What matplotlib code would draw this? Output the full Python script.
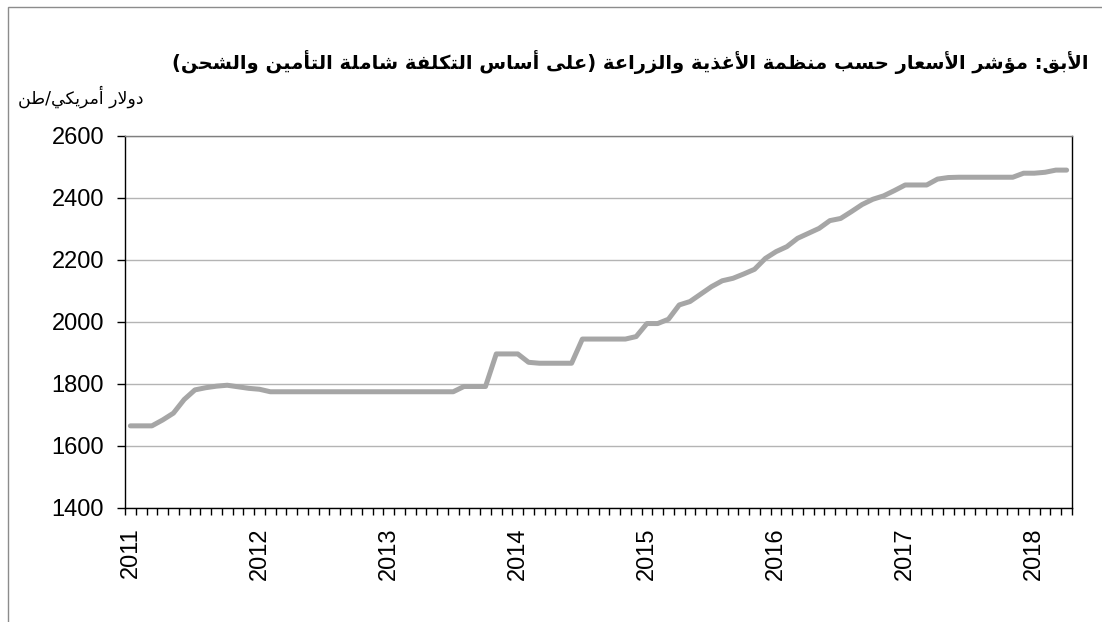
import matplotlib
matplotlib.use('Agg')
import matplotlib.pyplot as plt
from matplotlib.patches import Rectangle

# أسعار شهرية من يناير 2011 إلى أبريل 2018
years = ['2011', '2012', '2013', '2014', '2015', '2016', '2017', '2018']
prices = [
    1665, 1665, 1665, 1684, 1706, 1750, 1781, 1788, 1793, 1796, 1791, 1786,  # 2011
    1783, 1775, 1775, 1775, 1775, 1775, 1775, 1775, 1775, 1775, 1775, 1775,  # 2012
    1775, 1775, 1775, 1775, 1775, 1775, 1775, 1792, 1792, 1792, 1897, 1897,  # 2013
    1897, 1870, 1867, 1867, 1867, 1867, 1945, 1945, 1945, 1945, 1945, 1953,  # 2014
    1995, 1995, 2009, 2055, 2066, 2090, 2114, 2133, 2141, 2155, 2170, 2205,  # 2015
    2227, 2243, 2270, 2286, 2302, 2327, 2334, 2356, 2379, 2396, 2407, 2424,  # 2016
    2442, 2442, 2442, 2461, 2466, 2467, 2467, 2467, 2467, 2467, 2467, 2480,  # 2017
    2480, 2483, 2490, 2490,                                                  # 2018
]
y_ticks = [1400, 1600, 1800, 2000, 2200, 2400, 2600]

title = 'الأبق: مؤشر الأسعار حسب منظمة الأغذية والزراعة (على أساس التكلفة شاملة التأمين والشحن)'
unit = 'دولار أمريكي/طن'

# matplotlib لا يشكّل الحروف العربية، لذلك نحوّلها يدويا إلى أشكال العرض
# (الحرف: رمز الشكل المنفرد، هل يتصل بما بعده)
FORMS = {
    'ء': (0xFE80, None), 'آ': (0xFE81, False), 'أ': (0xFE83, False),
    'ؤ': (0xFE85, False), 'إ': (0xFE87, False), 'ئ': (0xFE89, True),
    'ا': (0xFE8D, False), 'ب': (0xFE8F, True), 'ة': (0xFE93, False),
    'ت': (0xFE95, True), 'ث': (0xFE99, True), 'ج': (0xFE9D, True),
    'ح': (0xFEA1, True), 'خ': (0xFEA5, True), 'د': (0xFEA9, False),
    'ذ': (0xFEAB, False), 'ر': (0xFEAD, False), 'ز': (0xFEAF, False),
    'س': (0xFEB1, True), 'ش': (0xFEB5, True), 'ص': (0xFEB9, True),
    'ض': (0xFEBD, True), 'ط': (0xFEC1, True), 'ظ': (0xFEC5, True),
    'ع': (0xFEC9, True), 'غ': (0xFECD, True), 'ف': (0xFED1, True),
    'ق': (0xFED5, True), 'ك': (0xFED9, True), 'ل': (0xFEDD, True),
    'م': (0xFEE1, True), 'ن': (0xFEE5, True), 'ه': (0xFEE9, True),
    'و': (0xFEED, False), 'ى': (0xFEEF, False), 'ي': (0xFEF1, True),
    # لام ألف
    'ﻻ': (0xFEFB, False), 'ﻷ': (0xFEF7, False), 'ﻹ': (0xFEF9, False), 'ﻵ': (0xFEF5, False),
}
LAM_ALEF = {'ا': 'ﻻ', 'أ': 'ﻷ', 'إ': 'ﻹ', 'آ': 'ﻵ'}


def arabic(text):
    chars = []
    i = 0
    while i < len(text):
        if text[i] == 'ل' and i + 1 < len(text) and text[i + 1] in LAM_ALEF:
            chars.append(LAM_ALEF[text[i + 1]])
            i += 2
        else:
            chars.append(text[i])
            i += 1
    out = []
    for i, c in enumerate(chars):
        if c not in FORMS or FORMS[c][1] is None:
            out.append(c)
            continue
        base, dual = FORMS[c]
        prev = chars[i - 1] if i > 0 else ''
        nxt = chars[i + 1] if i + 1 < len(chars) else ''
        j_prev = prev in FORMS and FORMS[prev][1] is True
        j_next = dual and nxt in FORMS
        if j_prev and j_next:
            out.append(chr(base + 3))
        elif j_prev:
            out.append(chr(base + 1))
        elif j_next:
            out.append(chr(base + 2))
        else:
            out.append(chr(base))
    mirror = {'(': ')', ')': '('}
    return ''.join(mirror.get(c, c) for c in reversed(out))


W, H = 1102, 622
fig = plt.figure(figsize=(W / 100, H / 100), dpi=100)
ax = fig.add_axes([125 / W, 1 - 508 / H, (1072 - 125) / W, (508 - 136) / H])

x = list(range(len(prices)))
ax.plot(x, prices, color='#a6a6a6', linewidth=3.6, solid_capstyle='round',
        solid_joinstyle='round', zorder=3)

ax.set_ylim(1400, 2600)
ax.set_xlim(-0.5, len(prices) - 0.5)
ax.set_yticks(y_ticks)
ax.set_yticklabels([str(v) for v in y_ticks], family='Liberation Sans', fontsize=17)
ax.yaxis.grid(True, color='#b4b4b4', linewidth=1.0, zorder=1)
ax.tick_params(axis='y', direction='out', length=6, width=1, pad=9)

ax.set_xticks([12 * k for k in range(len(years))])
ax.set_xticklabels(years, rotation=90, family='Liberation Sans', fontsize=17)
ax.set_xticks([k - 0.5 for k in range(len(prices) + 1)], minor=True)
ax.tick_params(axis='x', which='major', length=0, pad=14)
ax.tick_params(axis='x', which='minor', direction='out', length=5, width=1)

for side in ['left', 'bottom', 'right']:
    ax.spines[side].set_color('black')
    ax.spines[side].set_linewidth(1.0)
ax.spines['top'].set_color('#7f7f7f')
ax.spines['top'].set_linewidth(1.0)

fig.text(630 / W, 1 - 62 / H, arabic(title), ha='center', va='center',
         family='DejaVu Sans', fontweight='bold', fontsize=14)
fig.text(143 / W, 1 - 97 / H, arabic(unit), ha='right', va='center',
         family='DejaVu Sans', fontsize=12.5)

# إطار الرسم الخارجي
fig.patches.append(Rectangle((8 / W, -0.1), 1.0, 1.1 - 7 / H, transform=fig.transFigure,
                             fill=False, edgecolor='#8c8c8c', linewidth=1.0))

fig.savefig('out.png', dpi=100)
